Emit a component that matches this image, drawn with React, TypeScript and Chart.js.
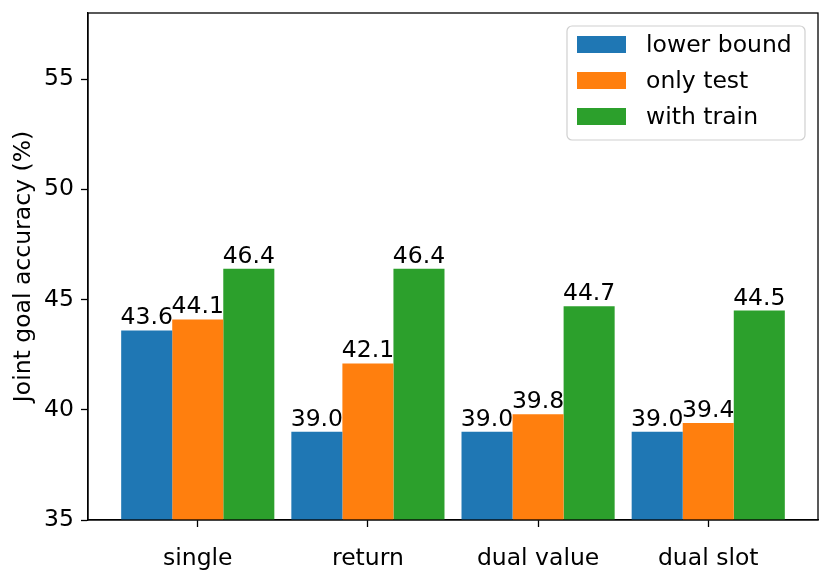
import React, { useEffect, useRef } from "react";
import { Chart, registerables } from "chart.js";

Chart.register(...registerables);

const categories = ["single", "return", "dual value", "dual slot"];
const seriesNames = ["lower bound", "only test", "with train"];
const lowerBound = [43.6, 39.0, 39.0, 39.0];
const onlyTest = [44.1, 42.1, 39.8, 39.4];
const withTrain = [46.4, 46.4, 44.7, 44.5];
const yTicks = [35, 40, 45, 50, 55];
const yTitle = "Joint goal accuracy (%)";

const colors = ["#1f77b4", "#ff7f0e", "#2ca02c"];
const FONT = "DejaVu Sans";
const FS = 23.5;

export default function App() {
  const ref = useRef<HTMLCanvasElement | null>(null);

  useEffect(() => {
    if (!ref.current) return;
    const series = [lowerBound, onlyTest, withTrain];

    const frame = {
      id: "frame",
      afterDatasetsDraw(chart: any) {
        const { ctx, chartArea: a } = chart;
        ctx.save();
        ctx.strokeStyle = "#000";
        ctx.lineWidth = 1.3;
        ctx.strokeRect(a.left, a.top, a.right - a.left, a.bottom - a.top);
        ctx.restore();
      },
    };

    const labels = {
      id: "valueLabels",
      afterDatasetsDraw(chart: any) {
        const { ctx } = chart;
        ctx.save();
        ctx.font = `${FS}px "${FONT}"`;
        ctx.fillStyle = "#000";
        ctx.textAlign = "center";
        ctx.textBaseline = "alphabetic";
        chart.data.datasets.forEach((ds: any, di: number) => {
          const meta = chart.getDatasetMeta(di);
          meta.data.forEach((el: any, i: number) => {
            ctx.fillText(series[di][i].toFixed(1), el.x, el.y - 6);
          });
        });
        ctx.restore();
      },
    };

    const legendBox = {
      id: "legendBox",
      afterDraw(chart: any) {
        const { ctx, chartArea: a } = chart;
        const x0 = a.right - 251;
        const y0 = a.top + 13;
        const w = 238;
        const h = 114;
        ctx.save();
        ctx.beginPath();
        ctx.roundRect(x0, y0, w, h, 5);
        ctx.fillStyle = "rgba(255,255,255,0.8)";
        ctx.fill();
        ctx.strokeStyle = "#d0d0d0";
        ctx.lineWidth = 1.2;
        ctx.stroke();
        ctx.font = `${FS}px "${FONT}"`;
        ctx.textBaseline = "middle";
        ctx.textAlign = "left";
        seriesNames.forEach((name, i) => {
          const cy = y0 + 18.5 + i * 36;
          ctx.fillStyle = colors[i];
          ctx.fillRect(x0 + 10, cy - 8.5, 49, 17);
          ctx.fillStyle = "#000";
          ctx.fillText(name, x0 + 79, cy + 1);
        });
        ctx.restore();
      },
    };

    const font = { family: FONT, size: FS };

    const chart = new Chart(ref.current, {
      type: "bar",
      data: {
        datasets: series.map((vals, di) => ({
          label: seriesNames[di],
          data: vals.map((v, i) => ({ x: i, y: v })),
          backgroundColor: colors[di],
          borderWidth: 0,
          categoryPercentage: 0.9,
          barPercentage: 1.0,
        })),
      },
      options: {
        animation: false,
        responsive: false,
        devicePixelRatio: 1,
        layout: { padding: { top: 13, right: 13, left: 0, bottom: 0 } },
        plugins: {
          legend: { display: false },
          tooltip: { enabled: false },
        },
        scales: {
          x: {
            type: "linear",
            offset: false,
            min: -0.645,
            max: 3.645,
            afterBuildTicks: (s: any) => {
              s.ticks = categories.map((_, i) => ({ value: i }));
            },
            afterFit: (s: any) => {
              s.height = 63;
              s.paddingLeft = 0;
              s.paddingRight = 0;
            },
            ticks: {
              font,
              color: "#000",
              padding: 18,
              maxRotation: 0,
              autoSkip: false,
              callback: (v: any) => categories[Math.round(v)] ?? "",
            },
            grid: {
              offset: false,
              drawOnChartArea: false,
              drawTicks: true,
              tickLength: 7,
              tickWidth: 1.3,
              tickColor: "#000",
            },
            border: { display: true, color: "#000", width: 1.3 },
          },
          y: {
            type: "linear",
            min: 35,
            max: 58,
            afterBuildTicks: (s: any) => {
              s.ticks = yTicks.map((v) => ({ value: v }));
            },
            afterFit: (s: any) => {
              s.width = 88;
              s.paddingTop = 0;
              s.paddingBottom = 0;
            },
            ticks: { font, color: "#000", padding: 7 },
            grid: {
              drawOnChartArea: false,
              drawTicks: true,
              tickLength: 7,
              tickWidth: 1.3,
              tickColor: "#000",
            },
            border: { display: true, color: "#000", width: 1.3 },
            title: {
              display: true,
              text: yTitle,
              font,
              color: "#000",
              padding: { top: 10, bottom: 0 },
            },
          },
        },
      },
      plugins: [frame, labels, legendBox],
    } as any);

    return () => chart.destroy();
  }, []);

  return (
    <div style={{ position: "absolute", left: 0, top: 0, width: 831, height: 583, background: "#fff" }}>
      <canvas ref={ref} width={831} height={583} style={{ width: 831, height: 583 }} />
    </div>
  );
}
